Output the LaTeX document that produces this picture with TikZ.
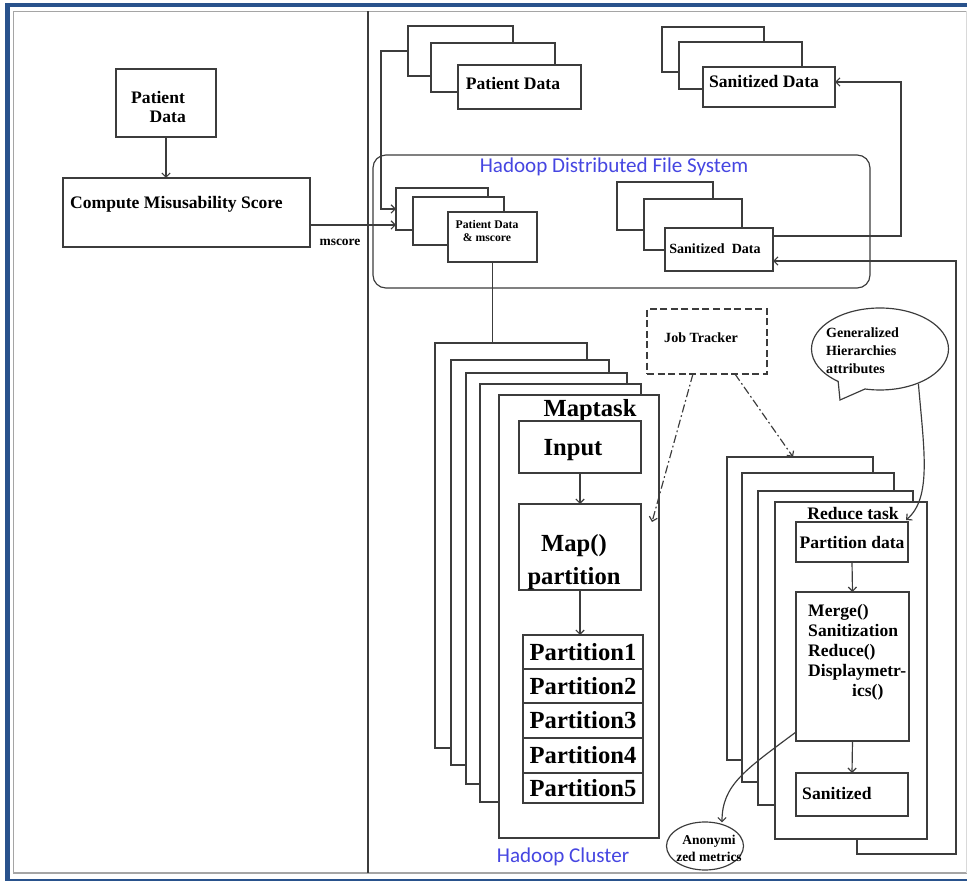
\documentclass[tikz,border=0pt]{standalone}
\usepackage{fontspec}
\setmainfont{Liberation Serif}
\newfontfamily\calfont{Carlito}
\usetikzlibrary{arrows.meta,shapes.geometric,shapes.callouts,calc}
\definecolor{ln}{RGB}{60,60,60}
\definecolor{frameblue}{RGB}{41,82,140}
\definecolor{framegray}{RGB}{165,165,165}
\definecolor{txtblue}{RGB}{70,70,225}
\newcommand{\bx}[7]{%
  \pgfmathsetmacro\bxcx{(#2+#4)/2}%
  \pgfmathsetmacro\bxcy{(#3+#5)/2}%
  \pgfmathsetmacro\bxw{(#4-#2)*0.03}%
  \pgfmathsetmacro\bxh{(#5-#3)*0.03}%
  \node[box,minimum width=\bxw cm,minimum height=\bxh cm,#6] (#1) at (\bxcx,\bxcy) {#7};}
\tikzset{
  box/.style={draw=ln, fill=white, line width=1pt, inner sep=0pt, outer sep=0pt},
  conn/.style={draw=ln, line width=1pt},
  arr/.style={conn, -{Straight Barb[length=3.5pt,width=7pt]}},
  dd/.style={arr, dash pattern=on 7pt off 2.5pt on 1.5pt off 2.5pt},
  lbl/.style={inner sep=0pt, text=black},
  f10/.style={font=\fontsize{10}{11}\selectfont\bfseries},
  f115/.style={font=\fontsize{11.5}{14.5}\selectfont\bfseries},
  f12/.style={font=\fontsize{12}{15.4}\selectfont\bfseries},
  f15/.style={font=\fontsize{15}{17}\selectfont\bfseries},
  f21/.style={font=\fontsize{21}{24}\selectfont\bfseries},
  fblue/.style={font=\calfont\fontsize{18}{20}\selectfont, text=txtblue, inner sep=0pt},
}
\begin{document}
\begin{tikzpicture}[x=0.03cm, y=-0.03cm]
\useasboundingbox (0,0) rectangle (967,881);
% frame
\fill[frameblue] (5,3) rectangle (967,7.5);
\fill[frameblue] (5,3) rectangle (10,881);
\fill[frameblue] (5,879) rectangle (967,881);
\draw[framegray, line width=1.6pt] (967,11.5) -- (13.5,11.5) -- (13.5,873) -- (967,873);
\draw[gray!30, line width=0.6pt] (966,11.5) -- (966,873);
\draw[conn] (368,11.5) -- (368,873);

% left panel
\bx{pdl}{116}{69}{216}{137}{}{}
\node[lbl, f15, align=left, anchor=west] (pdlt) at (131,107) {Patient\\\hspace*{1.05em}Data};
\bx{cms}{63}{178}{310}{247}{}{}
\node[lbl, f15, anchor=west] (cmst) at (70,204) {Compute Misusability Score};
\draw[arr] (pdl.south) -- (pdl.south |- cms.north);
\node[lbl, f115] (mst) at (340,242) {mscore};

% top stacks
\bx{pd1}{408}{26}{513}{76}{}{}
\bx{pd2}{431}{43}{555}{92}{}{}
\bx{pd3}{458}{65}{581}{109}{}{}
\node[lbl, f15] (pd3t) at (513,83) {Patient Data};
\bx{st1}{662}{27}{764}{72}{}{}
\bx{st2}{679}{42}{802}{89}{}{}
\bx{st3}{703}{67}{835}{107}{}{}
\node[lbl, f15] (st3t) at (764,81) {Sanitized Data};

% HDFS
\bx{hdfs}{373}{155}{870}{288}{rounded corners=11pt, fill=none}{}
\node[fblue] (hdfst) at (614,167) {Hadoop Distributed File System};
\bx{pm1}{396}{188}{488}{230}{}{}
\bx{pm2}{413}{197}{504}{245}{}{}
\bx{pm3}{448}{212}{537}{262}{}{}
\node[lbl, f10, align=center] (pm3t) at (487,231) {Patient Data\\\& mscore};
\bx{sh1}{617}{182}{713}{230}{}{}
\bx{sh2}{644}{199}{742}{250}{}{}
\bx{sh3}{665}{228}{773}{271}{}{}
\node[lbl, f12] (sh3t) at (715,249) {Sanitized\ \ Data};

% map stack
\bx{m1}{435}{343}{587}{748}{}{}
\bx{m2}{451}{360}{609}{765}{}{}
\bx{m3}{466}{373}{627}{784}{}{}
\bx{m4}{480}{384}{641}{802}{}{}
\bx{m5}{499}{395}{659}{838}{}{}
\node[lbl, f21] (m5t) at (590,411) {Maptask};
\bx{inp}{519}{421}{641}{473}{}{}
\node[lbl, f21] (inpt) at (573,450) {Input};
\bx{mp}{519}{504}{641}{590}{}{}
\node[lbl, f21, align=center, font=\fontsize{21}{28}\selectfont\bfseries] (mpt) at (574,562) {Map()\\partition};
\bx{p1}{523}{635}{643}{669}{f21}{Partition1}
\bx{p2}{523}{669}{643}{703}{f21}{Partition2}
\bx{p3}{523}{703}{643}{738}{f21}{Partition3}
\bx{p4}{523}{738}{643}{773}{f21}{Partition4}
\bx{p5}{523}{773}{643}{803}{f21}{Partition5}
\draw[arr] (inp.south) -- (mp.north);
\draw[arr] (mp.south) -- (mp.south |- p1.north);
\node[fblue] (hct) at (563,857) {Hadoop Cluster};

% reduce stack
\bx{r1}{727}{457}{873}{760}{}{}
\bx{r2}{742}{473}{894}{782}{}{}
\bx{r3}{758}{491}{913}{805}{}{}
\bx{r4}{775}{502}{927}{839}{}{}
\node[lbl, f15] (r4t) at (853,514) {Reduce task};
\bx{pd}{796}{522}{908}{562}{f15}{Partition data}
\bx{mg}{796}{592}{909}{741}{}{}
\node[lbl, f15, align=left, anchor=north west] (mgt) at (808,604) {Merge()\\Sanitization\\Reduce()\\Displaymetr-\\\hspace*{2.5em}ics()};
\bx{sz}{796}{773}{908}{816}{}{}
\node[lbl, f15, anchor=west] (szt) at (802,793) {Sanitized};
\draw[arr] (pd.south) -- (mg.north);
\draw[arr] (mg.south) -- (sz.north);

% job tracker
\bx{jt}{647}{309}{767}{374}{dash pattern=on 6pt off 3pt}{}
\node[lbl, f12] (jtt) at (701,338) {Job Tracker};
\draw[dd] ($(jt.south west)!0.383!(jt.south east)$) -- ($(m5.north east)+(-7,127)$);
\draw[dd] ($(jt.south west)!0.733!(jt.south east)$) -- ($(r1.north)+(-7,0)$);

% generalized hierarchies callout
\node[ellipse callout, draw=ln, fill=white, line width=1pt, inner sep=0pt,
  minimum width=4.11cm, minimum height=2.46cm, callout pointer arc=25,
  callout absolute pointer={(840,400)}] (gen) at (880,349) {};
\node[lbl, f12, align=left, anchor=west] (gent) at (826,351) {Generalized\\Hierarchies\\attributes};
\draw[arr] (gen.-42) .. controls (924,450) and (932,498) .. ($(pd.north east)+(-2,-2)$);

% anonymized metrics
\node[ellipse, draw=ln, line width=1pt, inner sep=0pt, minimum width=2.31cm, minimum height=1.44cm] (an) at (705,846) {};
\node[lbl, f115, align=center] (ant) at (709,848) {Anonymi\\zed metrics};
\draw[arr] ($(mg.south west)+(0,-9)$) .. controls (745,770) and (722,785) .. ($(an.north)+(17,1)$);

% connectors
\coordinate (lx) at (381,0);
\draw[arr] (pd1.west) -- (pd1.west -| lx) -- (pm1.west -| lx) -- (pm1.west);
\coordinate (msy) at (0,225);
\draw[arr] (cms.east |- msy) -- (pm1.west |- msy);
\draw[conn] (pm3.south) -- (pm3.south |- m1.north);
\coordinate (rx) at (901,0);
\coordinate (sy) at (0,236);
\coordinate (sty) at (0,82);
\draw[arr] (sh3.east |- sy) -- (rx |- sy) -- (rx |- sty) -- (st3.east |- sty);
\coordinate (fb1) at (857,854);
\coordinate (fb2) at (956,854);
\coordinate (ay) at (0,261);
\draw[arr] (r4.south -| fb1) -- (fb1) -- (fb2) -- (fb2 |- ay) -- (sh3.east |- ay);
\end{tikzpicture}
\end{document}
